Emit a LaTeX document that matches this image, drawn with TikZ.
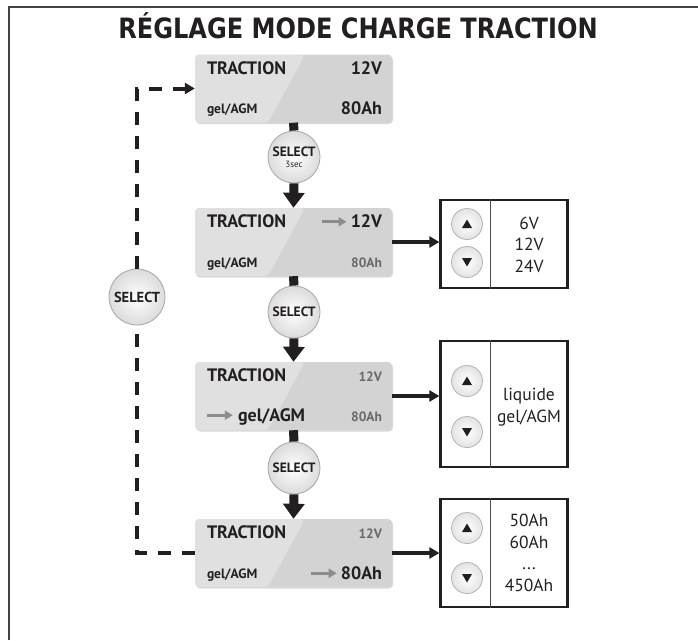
\documentclass[tikz,border=0pt]{standalone}
\usepackage{fontspec}
\usepackage{graphicx}
\setmainfont{PT Sans}
\newfontfamily\titlefont{DejaVu Sans}
\usetikzlibrary{arrows.meta,calc,shadows}

\definecolor{lcdgray}{RGB}{211,211,212}
\definecolor{inkdark}{RGB}{35,31,32}
\definecolor{inkgray}{RGB}{105,105,105}
\definecolor{hintgray}{RGB}{140,140,140}

\tikzset{
	lcd/.style={rounded corners=4pt, minimum width=197pt, minimum height=68pt, inner sep=0pt, fill=lcdgray,
		drop shadow={opacity=0.3, shadow xshift=1pt, shadow yshift=-1.5pt},
		path picture={\fill[white, opacity=0.3] (path picture bounding box.north west) -- ++(110pt,0pt) -- ($(path picture bounding box.south west)+(73pt,0pt)$) -- (path picture bounding box.south west) -- cycle;}},
	lcdbig/.style={inner sep=0pt, text=inkdark, font=\bfseries\fontsize{18}{18}\selectfont},
	lcdsmall/.style={inner sep=0pt, text=inkdark, font=\bfseries\fontsize{13.5}{13.5}\selectfont},
	lcddim/.style={lcdsmall, text=inkgray},
	selbtn/.style={circle, minimum size=52pt, inner sep=0pt, draw=gray!70, line width=0.8pt, shading=radial, inner color=white, outer color=gray!28, text=inkdark, align=center, font=\bfseries\fontsize{13.5}{13.5}\selectfont},
	keybtn/.style={circle, minimum size=31pt, inner sep=0pt, draw=gray!60, line width=0.8pt, shading=radial, inner color=white, outer color=gray!22},
	keyup/.style={keybtn, path picture={\fill[inkdark] ($(path picture bounding box.center)+(0pt,4.5pt)$) -- ++(5pt,-8.5pt) -- ++(-10pt,0pt) -- cycle;}},
	keydown/.style={keybtn, path picture={\fill[inkdark] ($(path picture bounding box.center)+(0pt,-4.5pt)$) -- ++(5pt,8.5pt) -- ++(-10pt,0pt) -- cycle;}},
	choicebox/.style={draw=inkdark, line width=2.2pt, minimum width=127pt, inner sep=0pt},
	choicetext/.style={text=inkdark, align=center, font=\fontsize{17.5}{21.5}\selectfont},
	bar/.style={inkdark, line width=9pt},
	flow/.style={bar, -{Triangle[length=15pt, width=21pt]}},
	toright/.style={inkdark, line width=3.5pt, -{Triangle[length=10pt, width=11pt]}},
	backline/.style={inkdark, line width=4pt, dash pattern=on 13pt off 11pt},
	hint/.style={hintgray, line width=3pt, -{Triangle[length=8pt, width=9pt]}}
}

\begin{document}
\begin{tikzpicture}[x=1pt, y=-1pt]
	%%%%% START %%%%%
	\useasboundingbox (0,0) rectangle (698,640);
	\draw[line width=2pt, inkdark!85] (9,640) -- (9,7) -- (698,7);

	\node[anchor=base, text=inkdark, font=\titlefont\bfseries\fontsize{28}{28}\selectfont] (title) at (358,38) {\scalebox{0.86}[1]{RÉGLAGE MODE CHARGE TRACTION}};

	% displays
	\node[lcd] (lcd1) at (293.5,88.5) {};
	\node[lcd] (lcd2) at (293.5,242) {};
	\node[lcd] (lcd3) at (293.5,396) {};
	\node[lcd] (lcd4) at (293.5,553) {};

	\node[lcdbig, anchor=base west] (mode1) at ([xshift=12pt,yshift=-20pt]lcd1.north west) {TRACTION};
	\node[lcdbig, anchor=base east] (volt1) at ([xshift=-10pt,yshift=-20pt]lcd1.north east) {12V};
	\node[lcdsmall, anchor=base west] (type1) at ([xshift=12pt,yshift=9pt]lcd1.south west) {gel/AGM};
	\node[lcdbig, anchor=base east] (cap1) at ([xshift=-10pt,yshift=8pt]lcd1.south east) {80Ah};

	\node[lcdbig, anchor=base west] (mode2) at ([xshift=12pt,yshift=-20pt]lcd2.north west) {TRACTION};
	\node[lcdbig, anchor=base east] (volt2) at ([xshift=-10pt,yshift=-20pt]lcd2.north east) {12V};
	\node[lcdsmall, anchor=base west] (type2) at ([xshift=12pt,yshift=9pt]lcd2.south west) {gel/AGM};
	\node[lcddim, anchor=base east] (cap2) at ([xshift=-10pt,yshift=9pt]lcd2.south east) {80Ah};
	\coordinate (h2) at ([xshift=-29pt,yshift=6pt]volt2.base west);
	\draw[hint, shorten >=4pt] (h2) -- (h2 -| volt2.west);

	\node[lcdbig, anchor=base west] (mode3) at ([xshift=12pt,yshift=-20pt]lcd3.north west) {TRACTION};
	\node[lcddim, anchor=base east] (volt3) at ([xshift=-10pt,yshift=-20pt]lcd3.north east) {12V};
	\node[lcdbig, anchor=base west] (type3) at ([xshift=43pt,yshift=9pt]lcd3.south west) {gel/AGM};
	\node[lcddim, anchor=base east] (cap3) at ([xshift=-10pt,yshift=9pt]lcd3.south east) {80Ah};
	\coordinate (h3) at ([xshift=-31pt,yshift=6pt]type3.base west);
	\draw[hint, shorten >=5pt] (h3) -- (h3 -| type3.west);

	\node[lcdbig, anchor=base west] (mode4) at ([xshift=12pt,yshift=-20pt]lcd4.north west) {TRACTION};
	\node[lcddim, anchor=base east] (volt4) at ([xshift=-10pt,yshift=-20pt]lcd4.north east) {12V};
	\node[lcdsmall, anchor=base west] (type4) at ([xshift=12pt,yshift=9pt]lcd4.south west) {gel/AGM};
	\node[lcdbig, anchor=base east] (cap4) at ([xshift=-10pt,yshift=8pt]lcd4.south east) {80Ah};
	\coordinate (h4) at ([xshift=-30pt,yshift=6pt]cap4.base west);
	\draw[hint, shorten >=4pt] (h4) -- (h4 -| cap4.west);

	% select buttons
	\node[selbtn] (sel1) at (294,157) {SELECT\\[-3pt]{\mdseries\fontsize{9}{9}\selectfont 3sec}};
	\node[selbtn] (sel2) at (294,312) {SELECT};
	\node[selbtn] (sel3) at (294,468) {SELECT};
	\node[selbtn, minimum size=56pt, font=\bfseries\fontsize{14.5}{14.5}\selectfont] (selL) at (137,297) {SELECT};

	\draw[bar] (lcd1.south) -- (sel1.north);
	\draw[flow] (sel1.south) -- (lcd2.north);
	\draw[bar] (lcd2.south) -- (sel2.north);
	\draw[flow] (sel2.south) -- (lcd3.north);
	\draw[bar] (lcd3.south) -- (sel3.north);
	\draw[flow] (sel3.south) -- (lcd4.north);

	% way back to the start
	\draw[backline, -{Triangle[length=10pt, width=11pt]}] (selL.north) -- (selL |- lcd1.west) -- (lcd1.west);
	\draw[backline] (lcd4.west) -- (selL |- lcd4.west) -- (selL.south);

	% choice panels
	\node[choicebox, minimum height=88pt] (pan1) at (504,244) {};
	\node[choicebox, minimum height=126pt] (pan2) at (504,404) {};
	\node[choicebox, minimum height=108pt] (pan3) at (504,553) {};
	\foreach \p in {pan1,pan2,pan3}
		\draw[gray!60!black, line width=0.9pt] ([xshift=51pt]\p.north west) -- ([xshift=51pt]\p.south west);

	\node[keyup] (up1) at (467,224) {};
	\node[keydown] (down1) at (467,262) {};
	\node[choicetext] (vals1) at (529,244.5) {6V\\12V\\24V};

	\node[keyup] (up2) at (467,381) {};
	\node[keydown] (down2) at (467,432) {};
	\node[choicetext] (vals2) at (529,407) {liquide\\gel/AGM};

	\node[keyup] (up3) at (467,528) {};
	\node[keydown] (down3) at (467,578) {};
	\node[choicetext] (vals3) at (529,553) {50Ah\\60Ah\\...\\450Ah};

	\draw[toright] (lcd2.east) -- (lcd2.east -| pan1.west);
	\draw[toright] (lcd3.east) -- (lcd3.east -| pan2.west);
	\draw[toright] (lcd4.east) -- (lcd4.east -| pan3.west);
	%%%%% END %%%%%
\end{tikzpicture}
\end{document}
